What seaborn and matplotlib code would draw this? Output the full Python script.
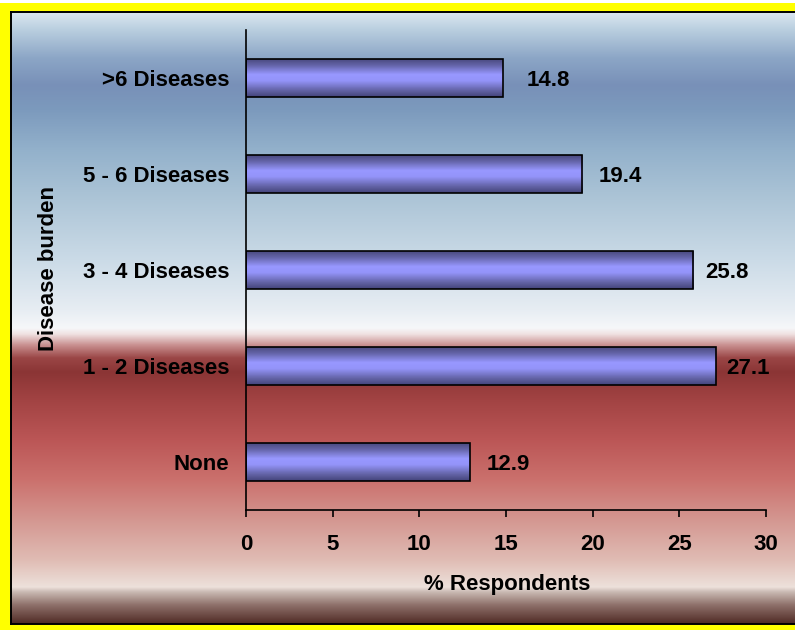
import numpy as np
import matplotlib
matplotlib.use("Agg")
import matplotlib.pyplot as plt
import matplotlib.colors as mcolors
from matplotlib.patches import Rectangle
import pandas as pd
import seaborn as sns

# Share of respondents by number of diseases
categories = [">6 Diseases", "5 - 6 Diseases", "3 - 4 Diseases", "1 - 2 Diseases", "None"]
respondents_pct = [14.8, 19.4, 25.8, 27.1, 12.9]
x_ticks = [0, 5, 10, 15, 20, 25, 30]

# horizontal gap (pixels) between each bar end and its value label
label_gap_px = [24, 16, 12, 11, 17]

sns.set_theme(style="white")
plt.rcParams["font.family"] = ["Liberation Sans", "DejaVu Sans"]
plt.rcParams["font.weight"] = "bold"

W, H = 795, 630
FS = 16
fig = plt.figure(figsize=(W / 100, H / 100), dpi=100, facecolor="white")

# yellow frame
fig.patches.append(Rectangle((0, 0), 1, (H - 3) / H, transform=fig.transFigure,
                             facecolor="#ffff00", edgecolor="none", zorder=-10))

# backdrop panel with a vertical colour gradient
top_px, bot_px, left_px = 12, 624, 11
bg = fig.add_axes([left_px / W, (H - bot_px) / H, (W - left_px) / W, (bot_px - top_px) / H])
stops = [
    (12, "#dce8f1"), (30, "#b9cedf"), (58, "#8ca6c6"), (85, "#7890b8"),
    (110, "#7c9abd"), (150, "#93b1cb"), (200, "#adc5d7"), (260, "#cbdbe7"),
    (310, "#e7edf3"), (328, "#f6f7f9"), (334, "#f0e2e2"), (345, "#c99090"),
    (358, "#9a4646"), (372, "#8b3535"), (400, "#a24343"), (440, "#bb5656"),
    (480, "#cb716d"), (520, "#d49791"), (560, "#e0bcb4"), (587, "#ede1db"),
    (592, "#c9b9b2"), (605, "#8e706a"), (620, "#5c3832"), (624, "#4a2a24"),
]
ys = np.array([s[0] for s in stops], float)
cols = np.array([mcolors.to_rgb(s[1]) for s in stops])
rows = np.arange(top_px, bot_px) + 0.5
grad = np.stack([np.interp(rows, ys, cols[:, k]) for k in range(3)], axis=-1)[:, None, :]
bg.imshow(grad, aspect="auto", extent=[0, 1, 0, 1], interpolation="bilinear")
bg.set_xticks([])
bg.set_yticks([])
for sp in bg.spines.values():
    sp.set_color("black")
    sp.set_linewidth(1.4)
bg.spines["right"].set_visible(False)
bg.set_zorder(0)

# main chart
ax = fig.add_axes([246 / W, 120 / H, 520 / W, 480 / H])
ax.set_zorder(1)
ax.patch.set_alpha(0)

df = pd.DataFrame({"burden": categories, "pct": respondents_pct})
sns.barplot(data=df, x="pct", y="burden", orient="h", width=0.4, ax=ax,
            color="#9494ff", edgecolor="black", linewidth=1.2, zorder=3)

# shaded tube look for each bar
bar_cmap = mcolors.LinearSegmentedColormap.from_list(
    "tube", [(0.0, "#46467a"), (0.18, "#6464a8"), (0.42, "#9898ff"),
             (0.58, "#9494fa"), (0.82, "#6666aa"), (1.0, "#44447a")])
shade = np.linspace(0, 1, 64)[:, None]
for patch in ax.patches:
    x0, y0, w, h = patch.get_x(), patch.get_y(), patch.get_width(), patch.get_height()
    im = ax.imshow(shade, cmap=bar_cmap, extent=[x0, x0 + w, y0 + h, y0],
                   aspect="auto", zorder=2, interpolation="bilinear")
    im.set_clip_path(patch)
    patch.set_facecolor("none")

ax.set_xlim(0, 30)
ax.set_ylim(4.5, -0.5)
ax.set_aspect("auto")

# value labels
for patch, val, gap in zip(ax.patches, respondents_pct, label_gap_px):
    yc = patch.get_y() + patch.get_height() / 2
    ax.annotate(f"{val:.1f}", xy=(val, yc), xytext=(gap, -2), textcoords="offset pixels",
                ha="left", va="center", fontsize=FS, fontweight="bold", color="black")

ax.set_xticks(x_ticks)
ax.set_xticklabels([str(t) for t in x_ticks])
ax.tick_params(axis="x", direction="out", length=5, width=1.2, pad=12,
               labelsize=FS, colors="black", bottom=True)
ax.tick_params(axis="y", length=0, pad=12, labelsize=FS, colors="black")
for lab in ax.get_xticklabels() + ax.get_yticklabels():
    lab.set_fontweight("bold")

for side in ("top", "right"):
    ax.spines[side].set_visible(False)
for side in ("left", "bottom"):
    ax.spines[side].set_visible(True)
    ax.spines[side].set_color("black")
    ax.spines[side].set_linewidth(1.2)
ax.grid(False)

ax.set_xlabel("% Respondents", fontsize=FS, fontweight="bold", color="black")
ax.set_ylabel("Disease burden", fontsize=FS, fontweight="bold", color="black")
ax.xaxis.set_label_coords(0.502, -0.156)
ax.xaxis.label.set_va("center")
ax.yaxis.set_label_coords(-0.380, 0.504)
ax.yaxis.label.set_va("center")

fig.savefig("out.png", dpi=100)
